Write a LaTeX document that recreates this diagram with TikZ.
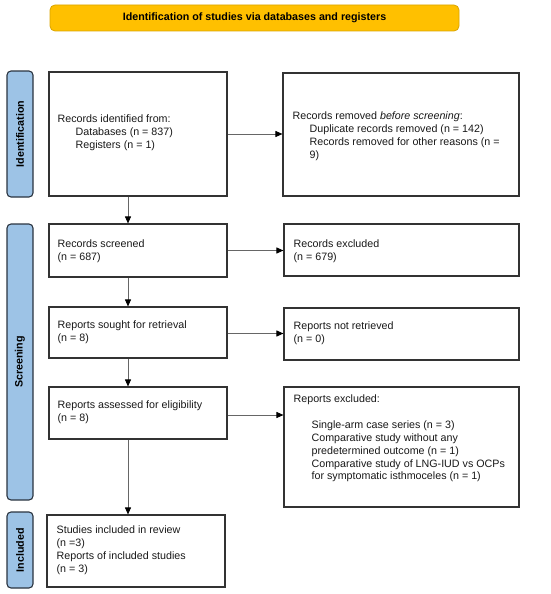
\documentclass[tikz,border=0pt]{standalone}
\usepackage{fontspec}
\setmainfont{Liberation Sans}
\usetikzlibrary{arrows.meta,positioning,calc}
\definecolor{bannerfill}{HTML}{FFC000}
\definecolor{bannerdraw}{HTML}{D9A400}
\definecolor{sidefill}{HTML}{9DC3E6}
\definecolor{sidedraw}{HTML}{2A3440}
\definecolor{boxdraw}{HTML}{333333}
\definecolor{arrowline}{HTML}{666666}
\begin{document}
\begin{tikzpicture}[x=1pt,y=-1pt,
  box/.style={draw=boxdraw, line width=1.1pt, fill=white, inner sep=0pt},
  txt/.style={align=left, inner sep=0pt, font=\fontsize{10.7}{12.9}\selectfont, text=black!90},
  side/.style={draw=sidedraw, line width=1.1pt, fill=sidefill, rounded corners=4pt,
    rotate=90, inner sep=0pt, minimum height=26pt,
    font=\fontsize{10.7}{12}\selectfont\bfseries},
  banner/.style={draw=bannerdraw, line width=0.8pt, fill=bannerfill, rounded corners=5pt,
    inner sep=0pt, minimum width=409pt, minimum height=26pt,
    font=\fontsize{10.7}{12}\selectfont\bfseries},
  arr/.style={draw=arrowline, line width=0.9pt, -{Triangle[length=7pt,width=6pt,color=black]}},
  ind/.style={}
]
\useasboundingbox (0,0) rectangle (550,594);

% banner
\node[banner] (ban) at (254.5,18) {Identification of studies via databases and registers};

% side labels
\node[side, minimum width=126pt] (lid) at (20,134) {Identification};
\node[side, minimum width=276pt] (lscr) at (20,362) {Screening};
\node[side, minimum width=76pt] (linc) at (20,550) {Included};

% boxes
\node[box, minimum width=178pt, minimum height=124pt] (b1) at (138,134) {};
\node[box, minimum width=236pt, minimum height=123pt] (b2) at (401,134.5) {};
\node[box, minimum width=178pt, minimum height=53pt] (b3) at (138,250.5) {};
\node[box, minimum width=235pt, minimum height=52pt] (b4) at (401.5,250) {};
\node[box, minimum width=178pt, minimum height=51pt] (b5) at (138,332.5) {};
\node[box, minimum width=235pt, minimum height=52pt] (b6) at (401.5,334) {};
\node[box, minimum width=178pt, minimum height=52pt] (b7) at (138,413) {};
\node[box, minimum width=235pt, minimum height=120pt] (b8) at (401.5,447) {};
\node[box, minimum width=178pt, minimum height=72pt] (b9) at (136,551) {};

% texts
\node[txt, anchor=west] (t1) at ([xshift=9pt,yshift=1pt]b1.west)
  {Records identified from:\\\hspace*{18pt}Databases (n = 837)\\\hspace*{18pt}Registers (n = 1)};
\node[txt, anchor=west] (t2) at ([xshift=10pt,yshift=-1.5pt]b2.west)
  {Records removed \textit{before screening}:\\\hspace*{17pt}Duplicate records removed (n = 142)\\\hspace*{17pt}Records removed for other reasons (n =\\\hspace*{17pt}9)};
\node[txt, anchor=west] (t3) at ([xshift=9pt,yshift=-1pt]b3.west) {Records screened\\(n = 687)};
\node[txt, anchor=west] (t4) at ([xshift=10pt,yshift=-1pt]b4.west) {Records excluded\\(n = 679)};
\node[txt, anchor=west] (t5) at ([xshift=9pt]b5.west) {Reports sought for retrieval\\(n = 8)};
\node[txt, anchor=west] (t6) at ([xshift=10pt,yshift=1pt]b6.west) {Reports not retrieved\\(n = 0)};
\node[txt, anchor=west] (t7) at ([xshift=9pt,yshift=1pt]b7.west) {Reports assessed for eligibility\\(n = 8)};
\node[txt, anchor=north west] (t8) at ([xshift=10pt,yshift=-8pt]b8.north west)
  {Reports excluded:\\[13pt]\hspace*{18pt}Single-arm case series (n = 3)\\\hspace*{18pt}Comparative study without any\\\hspace*{18pt}predetermined outcome (n = 1)\\\hspace*{18pt}Comparative study of LNG-IUD vs OCPs\\\hspace*{18pt}for symptomatic isthmoceles (n = 1)};
\node[txt, anchor=west] (t9) at ([xshift=10pt,yshift=1pt]b9.west)
  {Studies included in review\\(n =3)\\Reports of included studies\\(n = 3)};

% arrows
\draw[arr] ([xshift=-10pt]b1.south) -- ([xshift=-10pt]b1.south |- b3.north);
\draw[arr] ([xshift=-10pt]b3.south) -- ([xshift=-10pt]b3.south |- b5.north);
\draw[arr] ([xshift=-10pt]b5.south) -- ([xshift=-10pt]b5.south |- b7.north);
\draw[arr] ([xshift=-10pt]b7.south) -- ([xshift=-10pt]b7.south |- b9.north);
\draw[arr] (b1.east) -- (b1.east -| b2.west);
\draw[arr] (b3.east) -- (b3.east -| b4.west);
\draw[arr] ([yshift=-1pt]b5.east) -- ([yshift=-1pt]b5.east -| b6.west);
\draw[arr] ([yshift=-2pt]b7.east) -- ([yshift=-2pt]b7.east -| b8.west);
\end{tikzpicture}
\end{document}
